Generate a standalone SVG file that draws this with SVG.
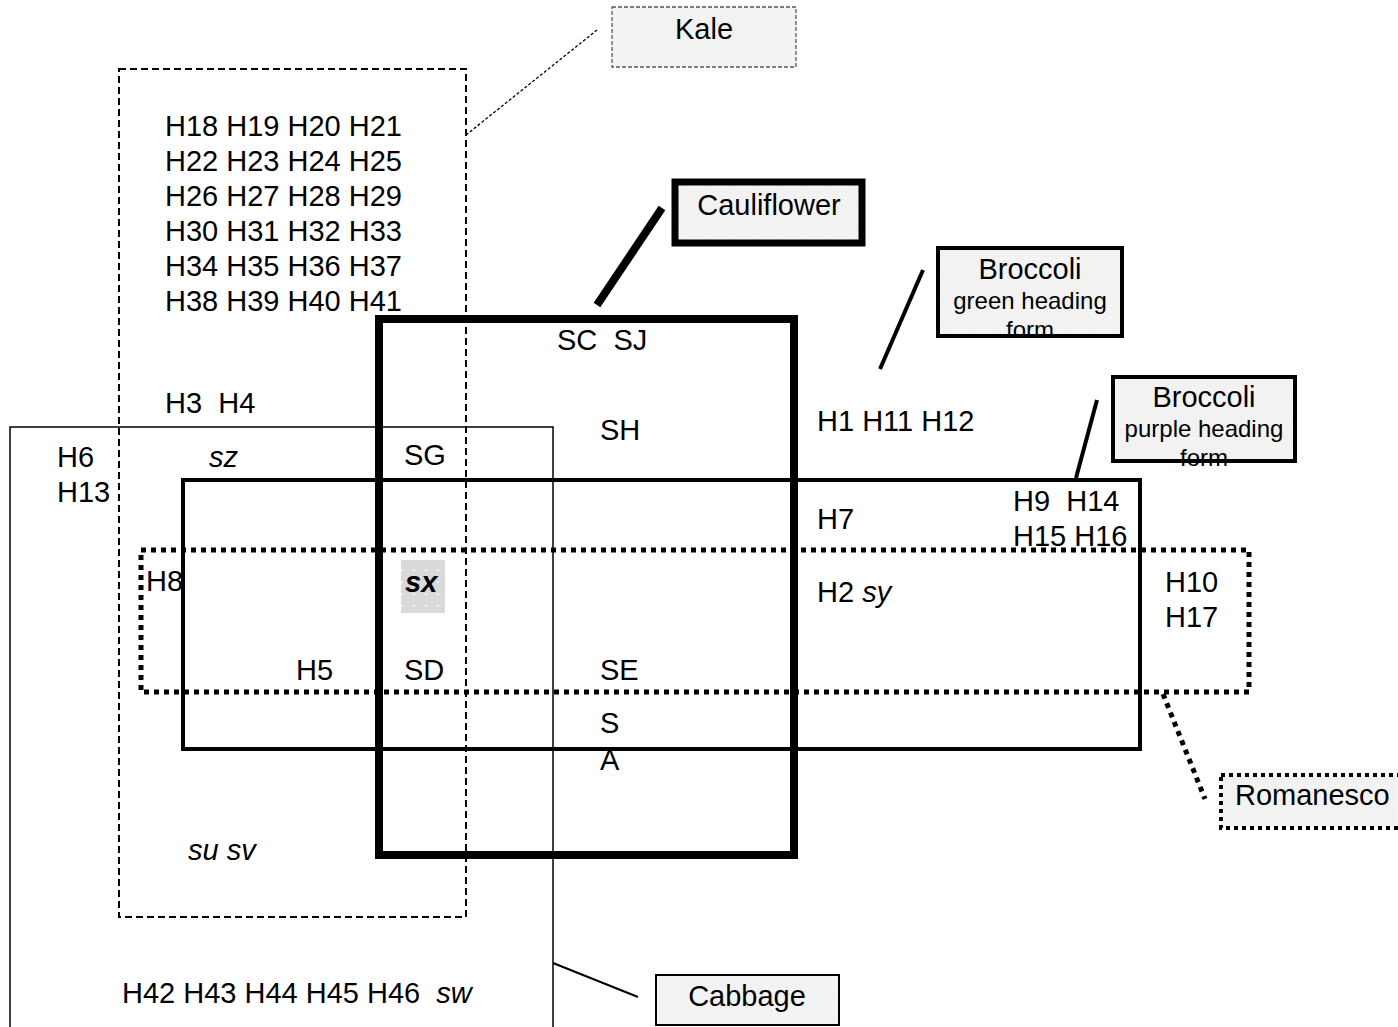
<svg xmlns="http://www.w3.org/2000/svg" width="1398" height="1027" viewBox="0 0 1398 1027">
<defs>
<pattern id="dots" width="12" height="12" patternUnits="userSpaceOnUse">
<rect width="12" height="12" fill="#f2f2f2"/>
<circle cx="6" cy="6" r="1" fill="#ffffff"/>
</pattern>
<pattern id="dots2" width="12" height="12" patternUnits="userSpaceOnUse">
<rect width="12" height="12" fill="#d9d9d9"/>
<circle cx="6" cy="6" r="1" fill="#ffffff"/>
</pattern>
</defs>
<style>
text{font-family:"Liberation Sans",Arial,sans-serif;font-size:29px;fill:#000}
.it{font-style:italic}
.sm{font-size:24px}
.mid{text-anchor:middle}
.lbl{fill:url(#dots)}
</style>
<rect width="1398" height="1027" fill="#ffffff"/>

<g id="cabbage-set">
<rect x="10" y="427" width="543" height="620" fill="none" stroke="#000" stroke-width="1.5"/>
</g>
<g id="kale-set">
<rect x="119" y="69" width="347" height="848" fill="none" stroke="#000" stroke-width="2" stroke-dasharray="7 4"/>
</g>
<g id="broccoli-set">
<rect x="183" y="480" width="957" height="269" fill="none" stroke="#000" stroke-width="4"/>
</g>
<g id="cauliflower-set">
<rect x="379" y="319" width="415" height="536" fill="none" stroke="#000" stroke-width="8"/>
</g>
<g id="sx-highlight">
<rect x="401" y="560" width="44" height="53" fill="url(#dots2)"/>
</g>
<g id="romanesco-set">
<rect x="141" y="550" width="1108" height="142" fill="none" stroke="#000" stroke-width="5" stroke-dasharray="5 5"/>
</g>

<g id="connectors">
<line x1="466" y1="135" x2="597" y2="30" stroke="#000" stroke-width="1.3" stroke-dasharray="3 2"/>
<line x1="597" y1="305" x2="662" y2="208" stroke="#000" stroke-width="8"/>
<line x1="880" y1="369" x2="923" y2="270" stroke="#000" stroke-width="4"/>
<line x1="1076" y1="478" x2="1097" y2="400" stroke="#000" stroke-width="4"/>
<line x1="1163" y1="694" x2="1205" y2="799" stroke="#000" stroke-width="5" stroke-dasharray="5 5"/>
<line x1="553" y1="963" x2="638" y2="997" stroke="#000" stroke-width="2"/>
</g>

<g id="kale-label">
<rect x="612" y="7" width="184" height="60" class="lbl" stroke="#555" stroke-width="1.3" stroke-dasharray="4 2"/>
<text x="704" y="39" class="mid">Kale</text>
</g>
<g id="cauliflower-label">
<rect x="675" y="182" width="187" height="61" class="lbl" stroke="#000" stroke-width="7"/>
<text x="769" y="215" class="mid">Cauliflower</text>
</g>
<g id="broccoli-green-label">
<rect x="938" y="248" width="184" height="88" class="lbl"/>
<text x="1030" y="279" class="mid">Broccoli</text>
<text x="1030" y="309" class="mid sm">green heading</text>
<text x="1030" y="338" class="mid sm">form</text>
<rect x="938" y="248" width="184" height="88" fill="none" stroke="#000" stroke-width="4"/>
</g>
<g id="broccoli-purple-label">
<rect x="1113" y="377" width="182" height="84" class="lbl"/>
<text x="1204" y="407" class="mid">Broccoli</text>
<text x="1204" y="437" class="mid sm">purple heading</text>
<text x="1204" y="466" class="mid sm">form</text>
<rect x="1113" y="377" width="182" height="84" fill="none" stroke="#000" stroke-width="4"/>
</g>
<g id="romanesco-label">
<rect x="1221" y="775" width="190" height="53" class="lbl" stroke="#000" stroke-width="4" stroke-dasharray="4 4"/>
<text x="1235" y="805">Romanesco</text>
</g>
<g id="cabbage-label">
<rect x="656" y="975" width="183" height="50" class="lbl" stroke="#000" stroke-width="2"/>
<text x="747" y="1006" class="mid">Cabbage</text>
</g>

<g id="members">
<text x="165" y="136">H18 H19 H20 H21</text>
<text x="165" y="171">H22 H23 H24 H25</text>
<text x="165" y="206">H26 H27 H28 H29</text>
<text x="165" y="241">H30 H31 H32 H33</text>
<text x="165" y="276">H34 H35 H36 H37</text>
<text x="165" y="311">H38 H39 H40 H41</text>
<text x="165" y="413" xml:space="preserve">H3  H4</text>
<text x="57" y="467">H6</text>
<text x="57" y="502">H13</text>
<text x="209" y="467" class="it">sz</text>
<text x="404" y="465">SG</text>
<text x="557" y="350" xml:space="preserve">SC  SJ</text>
<text x="600" y="440">SH</text>
<text x="817" y="431">H1 H11 H12</text>
<text x="817" y="529">H7</text>
<text x="1013" y="511" xml:space="preserve">H9  H14</text>
<text x="1013" y="546">H15 H16</text>
<text x="146" y="591">H8</text>
<text x="405" y="592" font-weight="bold" class="it">sx</text>
<text x="817" y="602">H2 <tspan class="it">sy</tspan></text>
<text x="1165" y="592">H10</text>
<text x="1165" y="627">H17</text>
<text x="296" y="680">H5</text>
<text x="404" y="680">SD</text>
<text x="600" y="680">SE</text>
<text x="600" y="733">S</text>
<text x="600" y="770">A</text>
<text x="188" y="860" class="it">su sv</text>
<text x="122" y="1003" xml:space="preserve">H42 H43 H44 H45 H46  <tspan class="it">sw</tspan></text>
</g>
</svg>
